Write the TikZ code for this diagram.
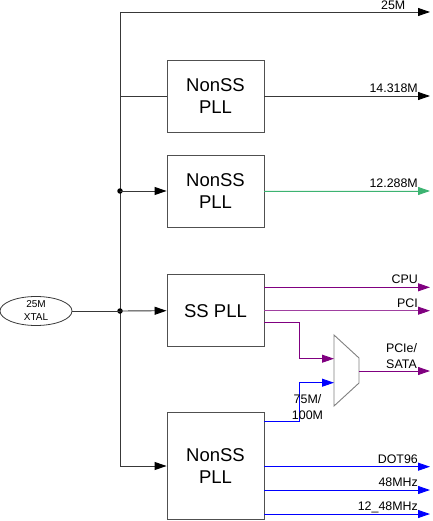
\documentclass[tikz,border=0pt]{standalone}
\usepackage{fontspec}
\setmainfont{Liberation Sans}
\usetikzlibrary{arrows.meta,shapes.geometric}
\definecolor{linegray}{HTML}{383838}
\definecolor{boxgray}{HTML}{505050}
\definecolor{muxgray}{HTML}{808080}
\definecolor{sigpurple}{HTML}{800080}
\definecolor{sigpurplelt}{HTML}{A040A0}
\definecolor{siggreen}{HTML}{3CB371}
\definecolor{sigblue}{HTML}{0000FF}
\tikzset{
  pllbox/.style={draw=boxgray, line width=0.9pt, minimum width=97pt, inner sep=0pt,
    font=\fontsize{18.5}{22}\selectfont, align=center},
  wire/.style={draw=linegray, line width=0.9pt},
  arr/.style={-{Triangle[length=12pt,width=8pt]}},
  barr/.style={-{Triangle[length=12pt,width=8pt,color=black]}},
  sig/.style={font=\fontsize{12.4}{16}\selectfont, inner sep=0pt, anchor=base east},
  jdot/.style={circle, fill=black, inner sep=0pt, minimum size=5.5pt},
}
\begin{document}
\begin{tikzpicture}[x=1pt,y=-1pt]
\useasboundingbox (0,0) rectangle (432,521);
% nodes
\node[ellipse, draw=linegray, line width=0.8pt, minimum width=72pt, minimum height=29pt, inner sep=0pt,
  align=center, font=\fontsize{10}{13}\selectfont] (xtal) at (36,311) {25M\\XTAL};
\node[pllbox, minimum height=72pt] (b1) at (215.5,96) {NonSS\\PLL};
\node[pllbox, minimum height=72pt] (b2) at (215.5,191) {NonSS\\PLL};
\node[pllbox, minimum height=72pt] (ss) at (215.5,310.7) {SS PLL};
\node[pllbox, minimum height=107pt] (b4) at (215.5,466.4) {NonSS\\PLL};
% junctions
\coordinate (top) at (120,12);
\coordinate (j1) at (120,96);
\coordinate (jb) at (120,466);
% mux
\coordinate (m1) at (334,335);
\coordinate (m2) at (359,358);
\coordinate (m3) at (359,383);
\coordinate (m4) at (334,406);
\draw[draw=muxgray, line width=0.9pt, fill=white] (m1) -- (m2) -- (m3) -- (m4) -- cycle;
\coordinate (min1) at (334,358.7);
\coordinate (min2) at (334,382.7);
\coordinate (mout) at (359,371);
% output ends
\coordinate (o0) at (430,12);
\coordinate (o1) at (430,96);
\coordinate (o2) at (430,191);
\coordinate (o3) at (430,287.3);
\coordinate (o4) at (430,310.7);
\coordinate (o5) at (430,371);
\coordinate (o6) at (430,466.7);
\coordinate (o7) at (430,490);
\coordinate (o8) at (430,514);
% trunk
\draw[wire] (top) -- (jb);
\node[jdot] (d2) at (120,191) {};
\node[jdot] (d3) at (120,311) {};
\draw[wire, barr] (top) -- (o0);
\draw[wire] (j1) -- (b1.west);
\draw[wire, barr] (d2.center) -- (b2.west);
\draw[wire] (xtal) -- (d3.center);
\draw[wire, barr] (d3.center) -- (ss.west);
\draw[wire, barr] (jb) -- (b4.west |- jb);
% outputs
\draw[wire, barr] (b1.east) -- (o1);
\draw[draw=siggreen, fill=siggreen, line width=0.9pt, arr] (b2.east) -- (o2);
\draw[draw=sigpurple, fill=sigpurple, line width=0.9pt, arr] (ss.east |- o3) -- (o3);
\draw[draw=sigpurplelt, line width=0.9pt, -{Triangle[length=12pt,width=8pt,color=sigpurple]}] (ss.east |- o4) -- (o4);
\draw[draw=sigpurple, line width=0.9pt, arr] (264,322) -| (299,358.7) -- (min1);
\draw[draw=sigblue, line width=0.9pt, arr] (264,421) -| (299,382.7) -- (min2);
\draw[draw=sigpurple, line width=0.9pt, arr] (mout) -- (o5);
\draw[draw=sigblue, line width=0.9pt, arr] (b4.east |- o6) -- (o6);
\draw[draw=sigblue, line width=0.9pt, arr] (b4.east |- o7) -- (o7);
\draw[draw=sigblue, line width=0.9pt, arr] (b4.east |- o8) -- (o8);
% labels
\node[sig] (l0) at (405.5,9.5) {25M};
\node[sig] (l1) at (418,92.5) {14.318M};
\node[sig] (l2) at (418,187.5) {12.288M};
\node[sig] (l3) at (418,283.5) {CPU};
\node[sig] (l4) at (418,307) {PCI};
\node[font=\fontsize{12.4}{16}\selectfont, inner sep=0pt, align=center, anchor=south] (l5) at (401.5,369) {PCIe/\\SATA};
\node[font=\fontsize{12.4}{16}\selectfont, inner sep=0pt, align=center, anchor=south] (l6) at (307.5,420) {75M/\\100M};
\node[sig] (l7) at (418,463) {DOT96};
\node[sig] (l8) at (418,486.5) {48MHz};
\node[sig] (l9) at (418,510.5) {12\_48MHz};
\end{tikzpicture}
\end{document}
